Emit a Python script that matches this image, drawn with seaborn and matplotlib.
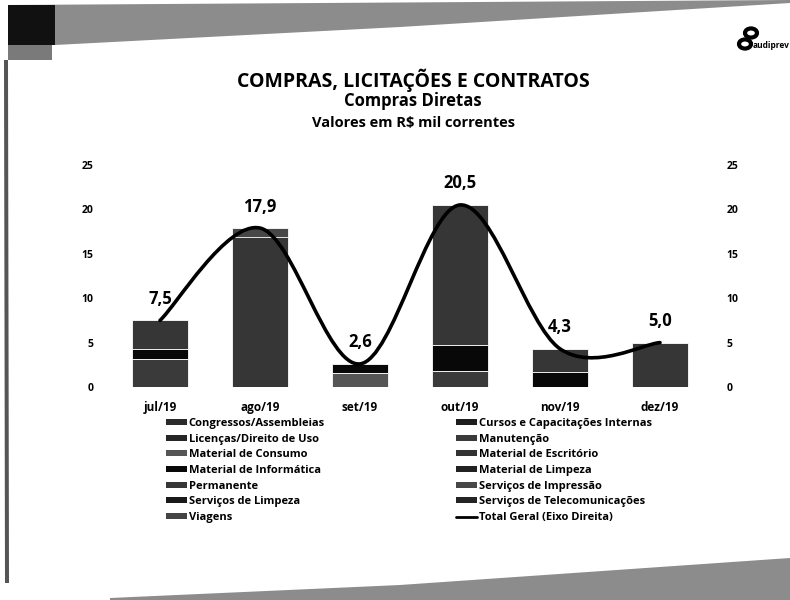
import numpy as np
import pandas as pd
import seaborn as sns
import matplotlib.pyplot as plt
from matplotlib.path import Path
from matplotlib.patches import PathPatch, Polygon, Patch, Circle
from matplotlib.lines import Line2D

# data (R$ mil)
months = ['jul/19', 'ago/19', 'set/19', 'out/19', 'nov/19', 'dez/19']
categories = ['Congressos/Assembleias', 'Cursos e Capacitações Internas',
              'Licenças/Direito de Uso', 'Manutenção', 'Material de Consumo',
              'Material de Escritório', 'Material de Informática',
              'Material de Limpeza', 'Permanente', 'Serviços de Impressão',
              'Serviços de Limpeza', 'Serviços de Telecomunicações', 'Viagens']
congressos = [0, 0, 0, 0, 0, 0]
cursos = [0, 0, 0, 0, 0, 0]
licencas = [0, 0, 0, 0, 0, 0]
manutencao = [3.2, 0, 0, 1.8, 0, 0]
mat_consumo = [0, 0, 1.6, 0, 0, 0]
mat_escritorio = [0, 0, 0, 0, 0, 0]
mat_informatica = [1.1, 0, 1.0, 2.9, 1.7, 0]
mat_limpeza = [0, 0, 0, 0, 0, 0]
permanente = [3.2, 16.9, 0, 15.8, 2.6, 5.0]
serv_impressao = [0, 1.0, 0, 0, 0, 0]
serv_limpeza = [0, 0, 0, 0, 0, 0]
serv_telecom = [0, 0, 0, 0, 0, 0]
viagens = [0, 0, 0, 0, 0, 0]
total = [7.5, 17.9, 2.6, 20.5, 4.3, 5.0]
total_labels = ['7,5', '17,9', '2,6', '20,5', '4,3', '5,0']

series = [congressos, cursos, licencas, manutencao, mat_consumo, mat_escritorio,
          mat_informatica, mat_limpeza, permanente, serv_impressao, serv_limpeza,
          serv_telecom, viagens]
colors = ['#2b2b2b', '#1e1e1e', '#262626', '#3a3a3a', '#555555', '#333333',
          '#080808', '#222222', '#363636', '#474747', '#1a1a1a', '#242424', '#444444']

df = pd.DataFrame(dict(zip(categories, series)), index=months)
cum = df.cumsum(axis=1)

sns.set_theme(style='white')
plt.rcParams['font.family'] = ['Open Sans', 'DejaVu Sans']
plt.rcParams['font.weight'] = 'bold'
plt.rcParams['text.color'] = 'black'
plt.rcParams['xtick.color'] = 'black'
plt.rcParams['ytick.color'] = 'black'

W, H = 790, 600
fig = plt.figure(figsize=(W / 100, H / 100), dpi=100)
fig.patch.set_facecolor('white')

# scan borders
def px(pts):
    return [(x / W, 1 - y / H) for x, y in pts]

fig.patches.append(Polygon(px([(8, 5), (790, 0), (790, 3), (400, 27), (55, 45), (8, 45)]),
                           closed=True, transform=fig.transFigure, facecolor='#8c8c8c', edgecolor='none'))
fig.patches.append(Polygon(px([(8, 5), (55, 5), (55, 45), (8, 45)]), closed=True,
                           transform=fig.transFigure, facecolor='#111111', edgecolor='none'))
fig.patches.append(Polygon(px([(8, 45), (52, 45), (52, 60), (8, 60)]), closed=True,
                           transform=fig.transFigure, facecolor='#7a7a7a', edgecolor='none'))
fig.patches.append(Polygon(px([(4, 60), (8, 60), (9, 583), (5, 583)]), closed=True,
                           transform=fig.transFigure, facecolor='#555555', edgecolor='none'))
fig.patches.append(Polygon(px([(110, 600), (110, 598), (400, 585), (790, 558), (790, 600)]),
                           closed=True, transform=fig.transFigure, facecolor='#8c8c8c', edgecolor='none'))

ax = fig.add_axes([110 / W, 1 - 387 / H, 600 / W, 222 / H])

# stacked bars: draw cumulative totals from top layer down
for i in range(len(categories) - 1, -1, -1):
    sns.barplot(x=months, y=cum.iloc[:, i].values, color=colors[i], width=0.56,
                saturation=1, edgecolor='white', linewidth=0.6, ax=ax)

ax.set_ylim(0, 25)
ax.set_xlim(-0.5, 5.5)
ax.set_yticks([0, 5, 10, 15, 20, 25])
ax.tick_params(axis='y', labelsize=7.5, pad=12, length=0)
ax.tick_params(axis='x', labelsize=8.5, pad=10, length=0)
for s in ax.spines.values():
    s.set_visible(False)

ax2 = ax.twinx()
ax2.set_ylim(0, 25)
ax2.set_yticks([0, 5, 10, 15, 20, 25])
ax2.tick_params(axis='y', labelsize=7.5, pad=12, length=0)
for s in ax2.spines.values():
    s.set_visible(False)
for lab in ax.get_yticklabels() + ax2.get_yticklabels() + ax.get_xticklabels():
    lab.set_fontweight('bold')

# smoothed total line (Catmull-Rom as Bezier segments)
xs = np.arange(len(total), dtype=float)
ys = np.array(total, dtype=float)
verts = [(xs[0], ys[0])]
codes = [Path.MOVETO]
n = len(xs)
for i in range(n - 1):
    p0 = i - 1 if i > 0 else i
    p3 = i + 2 if i + 2 < n else i + 1
    c1 = (xs[i] + (xs[i + 1] - xs[p0]) / 6, ys[i] + (ys[i + 1] - ys[p0]) / 6)
    c2 = (xs[i + 1] - (xs[p3] - xs[i]) / 6, ys[i + 1] - (ys[p3] - ys[i]) / 6)
    verts += [c1, c2, (xs[i + 1], ys[i + 1])]
    codes += [Path.CURVE4] * 3
ax2.add_patch(PathPatch(Path(verts, codes), facecolor='none', edgecolor='black',
                        linewidth=2.6, capstyle='round'))

for x, y, t in zip(xs, ys, total_labels):
    ax2.annotate(t, (x, y), xytext=(0, 9), textcoords='offset points',
                 ha='center', va='bottom', fontsize=12, fontweight='bold')

# titles
fig.text(413 / W, 1 - 80 / H, 'COMPRAS, LICITAÇÕES E CONTRATOS', ha='center', va='center',
         fontsize=14, fontweight='bold')
fig.text(413 / W, 1 - 101 / H, 'Compras Diretas', ha='center', va='center',
         fontsize=12, fontweight='bold')
fig.text(413 / W, 1 - 123 / H, 'Valores em R$ mil correntes', ha='center', va='center',
         fontsize=10.5, fontweight='bold')

# logo
fig.patches.append(Circle((745 / W, 1 - 44 / H), 6 / W, transform=fig.transFigure,
                          facecolor='white', edgecolor='black', linewidth=3))
fig.patches.append(Circle((751 / W, 1 - 33 / H), 6 / W, transform=fig.transFigure,
                          facecolor='white', edgecolor='black', linewidth=3))
fig.text(753 / W, 1 - 45 / H, 'audiprev', ha='left', va='center', fontsize=6, fontweight='bold')

# legends (two columns, Excel row-wise order)
handles = [Patch(facecolor=c, edgecolor='none') for c in colors]
handles.append(Line2D([], [], color='black', linewidth=2))
labels = categories + ['Total Geral (Eixo Direita)']
left_idx = [0, 2, 4, 6, 8, 10, 12]
right_idx = [1, 3, 5, 7, 9, 11, 13]
leg_kw = dict(frameon=False, handlelength=1.9, handleheight=0.45,
              handletextpad=0.15, labelspacing=0.42, borderaxespad=0, borderpad=0,
              loc='upper left', prop={'weight': 'bold', 'size': 8})
fig.legend([handles[i] for i in left_idx], [labels[i] for i in left_idx],
           bbox_to_anchor=(166 / W, 1 - 418 / H), **leg_kw)
fig.legend([handles[i] for i in right_idx], [labels[i] for i in right_idx],
           bbox_to_anchor=(456 / W, 1 - 418 / H), **leg_kw)

fig.savefig('out.png', dpi=100)
